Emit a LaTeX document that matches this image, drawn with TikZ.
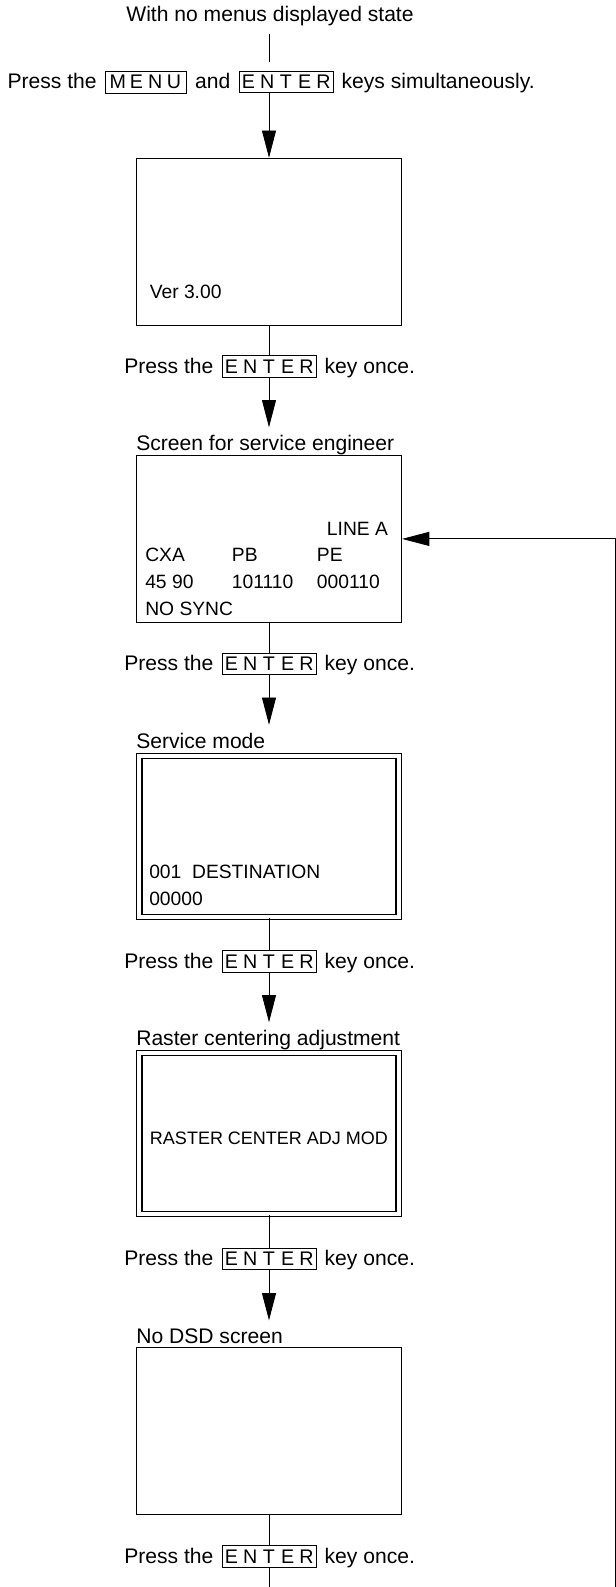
\documentclass[tikz,border=0pt]{standalone}
\usepackage{fontspec}
\setmainfont{Liberation Sans}
\usetikzlibrary{positioning,arrows.meta}
\newcommand{\kc}[1]{\makebox[0.47cm]{#1}}
\tikzset{
  screen/.style={draw, line width=0.75pt, minimum width=6.625cm, minimum height=4.17cm, inner sep=0pt},
  dscreen/.style={screen, double, double distance=0.11cm, minimum width=6.485cm, minimum height=4.03cm},
  lbl/.style={font=\fontsize{15}{18}\selectfont, inner sep=0pt},
  caption/.style={lbl, anchor=base west},
  scrtxt/.style={font=\fontsize{13.7}{16}\selectfont, inner sep=0pt, anchor=base west},
  keybox/.style={draw, line width=0.5pt, inner sep=0pt, minimum height=0.54cm,
                 font=\fontsize{14}{16}\selectfont},
  conn/.style={line width=0.6pt},
  arr/.style={conn, -{Triangle[length=0.68cm, width=0.35cm]}}
}
\begin{document}
\begin{tikzpicture}[x=0.025cm, y=-0.025cm]
  \useasboundingbox (0,0) rectangle (616,1587);

  %% Start
  \node[lbl, anchor=base] (title) at (270,21.8) {With no menus displayed state};
  \node[keybox] (enter0) at (286,82) {\kc{E}\kc{N}\kc{T}\kc{E}\kc{R}};
  \node[lbl, base left=0.2cm of enter0] (andtxt) {and};
  \node[keybox, minimum width=2.03cm, base left=0.2cm of andtxt] (menukey) {\kc{M}\kc{E}\kc{N}\kc{U}};
  \node[lbl, base left=0.2cm of menukey] (press0) {Press the};
  \node[lbl, base right=0.2cm of enter0] (simul) {keys simultaneously.};

  %% Screens
  \node[screen] (scr1) at (269,241.7) {};
  \node[scrtxt] (ver) at (149.5,298) {Ver 3.00};

  \node[screen] (scr2) at (269,538.9) {};
  \node[caption] (cap2) at (136,450.8) {Screen for service engineer};
  \node[scrtxt] (linea) at (326.7,535) {LINE A};
  \node[scrtxt] (cxa) at (145,561.7) {CXA};
  \node[scrtxt] (pb) at (231.7,561.7) {PB};
  \node[scrtxt] (pe) at (316.7,561.7) {PE};
  \node[scrtxt] (cxaval) at (145,588.3) {45 90};
  \node[scrtxt] (pbval) at (231.7,588.3) {101110};
  \node[scrtxt] (peval) at (316.7,588.3) {000110};
  \node[scrtxt] (nosync) at (145,615) {NO SYNC};

  \node[dscreen] (scr3) at (269,836.6) {};
  \node[caption] (cap3) at (136,748.3) {Service mode};
  \node[scrtxt] (dest) at (149,878.3) {001\ \ DESTINATION};
  \node[scrtxt] (destval) at (149,905) {00000};

  \node[dscreen] (scr4) at (269,1133.6) {};
  \node[caption] (cap4) at (136,1045.8) {Raster centering adjustment};
  \node[scrtxt, anchor=base, font=\fontsize{12.8}{15}\selectfont] (raster) at (269,1144) {RASTER CENTER ADJ MOD};

  \node[screen] (scr5) at (269,1431.3) {};
  \node[caption] (cap5) at (136,1343.3) {No DSD screen};

  \coordinate (flowend) at (269,1587);
  \coordinate (loopend) at (615,1587);

  % connectors
  \draw[conn, shorten <=0.19cm, shorten >=0.22cm] (title.south -| scr1.north) -- (enter0.north -| scr1.north);
  \draw[arr] (enter0.south -| scr1.north) -- (scr1.north);

  \foreach \n/\m/\y in {1/2/366.5, 2/3/664, 3/4/961.5, 4/5/1259}{
    \node[keybox] (key\n) at (269,\y) {\kc{E}\kc{N}\kc{T}\kc{E}\kc{R}};
    \node[lbl, base left=0.2cm of key\n] (press\n) {Press the};
    \node[lbl, base right=0.2cm of key\n] (once\n) {key once.};
    \draw[conn] (scr\n.south) -- (key\n.north);
    \draw[arr, shorten >=0.2cm] (key\n.south) -- (cap\m.north -| scr\m.north);
  }

  \node[keybox] (key5) at (269,1556.5) {\kc{E}\kc{N}\kc{T}\kc{E}\kc{R}};
  \node[lbl, base left=0.2cm of key5] (press5) {Press the};
  \node[lbl, base right=0.2cm of key5] (once5) {key once.};
  \draw[conn] (scr5.south) -- (key5.north);
  \draw[conn] (key5.south) -- (flowend);

  % back to the service engineer screen
  \draw[arr] (loopend) |- (scr2.east);
\end{tikzpicture}
\end{document}
